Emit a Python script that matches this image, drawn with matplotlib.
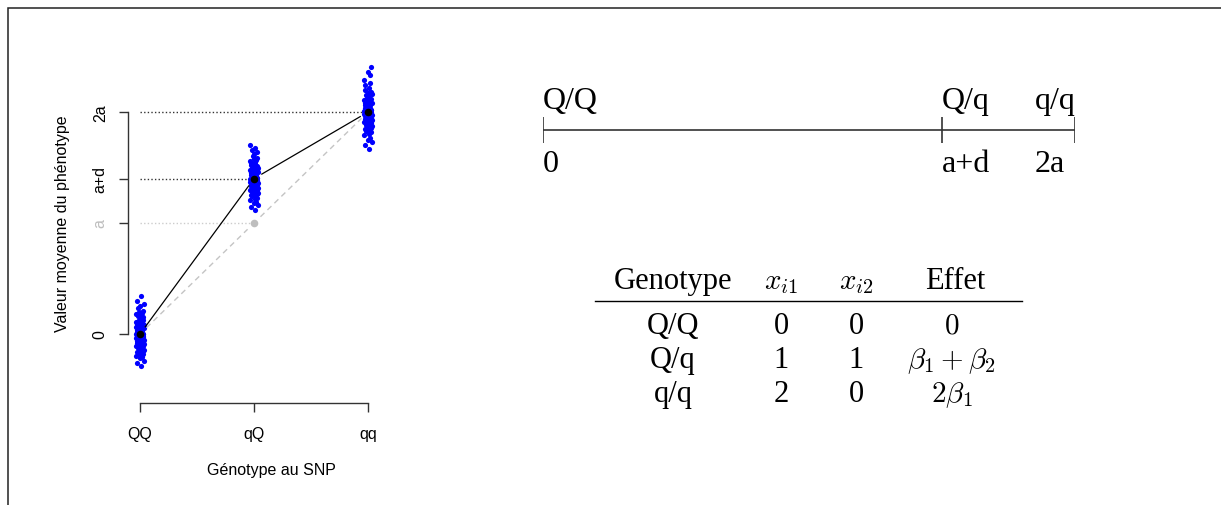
import numpy as np
import matplotlib
matplotlib.use("Agg")
import matplotlib.pyplot as plt

plt.rcParams["mathtext.fontset"] = "cm"

# --- data ---------------------------------------------------------------
genotypes = ["QQ", "qQ", "qq"]
genotype_pos = [1, 2, 3]
mean_values = [0.0, 1.4, 2.0]          # 0, a+d, 2a  (a = 1)
additive_values = [0.0, 1.0, 2.0]      # 0, a, 2a
ytick_values = [0.0, 1.0, 1.4, 2.0]
ytick_labels = ["0", "a", "a+d", "2a"]

QQ_values = [-0.29, -0.26, -0.24, -0.22, -0.21, -0.2, -0.19, -0.18, -0.17, -0.16,
             -0.16, -0.15, -0.14, -0.14, -0.13, -0.13, -0.12, -0.12, -0.11, -0.11,
             -0.1, -0.1, -0.1, -0.09, -0.09, -0.08, -0.08, -0.08, -0.07, -0.07,
             -0.07, -0.06, -0.06, -0.06, -0.05, -0.05, -0.05, -0.04, -0.04, -0.04,
             -0.03, -0.03, -0.03, -0.02, -0.02, -0.02, -0.01, -0.01, -0.01, 0.0,
             0.0, 0.0, 0.0, 0.01, 0.01, 0.01, 0.02, 0.02, 0.02, 0.03,
             0.03, 0.03, 0.04, 0.04, 0.04, 0.05, 0.05, 0.05, 0.06, 0.06,
             0.06, 0.07, 0.07, 0.07, 0.08, 0.08, 0.09, 0.09, 0.1, 0.1,
             0.11, 0.11, 0.12, 0.12, 0.13, 0.13, 0.14, 0.15, 0.16, 0.17,
             0.18, 0.19, 0.2, 0.21, 0.23, 0.25, 0.27, 0.3, 0.34]
qQ_values = [1.12, 1.14, 1.16, 1.18, 1.19, 1.21, 1.22, 1.23, 1.24, 1.25,
             1.25, 1.26, 1.27, 1.27, 1.28, 1.28, 1.29, 1.29, 1.3, 1.3,
             1.31, 1.31, 1.31, 1.32, 1.32, 1.33, 1.33, 1.33, 1.34, 1.34,
             1.34, 1.35, 1.35, 1.35, 1.36, 1.36, 1.36, 1.37, 1.37, 1.37,
             1.38, 1.38, 1.38, 1.39, 1.39, 1.39, 1.4, 1.4, 1.4, 1.4,
             1.41, 1.41, 1.41, 1.42, 1.42, 1.42, 1.43, 1.43, 1.43, 1.44,
             1.44, 1.44, 1.45, 1.45, 1.45, 1.46, 1.46, 1.47, 1.47, 1.48,
             1.48, 1.49, 1.49, 1.5, 1.5, 1.51, 1.51, 1.52, 1.53, 1.54,
             1.55, 1.56, 1.57, 1.58, 1.59, 1.6, 1.62, 1.64, 1.66, 1.68, 1.7]
qq_values = [1.67, 1.7, 1.73, 1.75, 1.77, 1.79, 1.8, 1.82, 1.83, 1.84,
             1.85, 1.86, 1.87, 1.87, 1.88, 1.89, 1.89, 1.9, 1.9, 1.91,
             1.91, 1.92, 1.92, 1.93, 1.93, 1.93, 1.94, 1.94, 1.95, 1.95,
             1.95, 1.96, 1.96, 1.96, 1.97, 1.97, 1.97, 1.98, 1.98, 1.98,
             1.99, 1.99, 1.99, 2.0, 2.0, 2.0, 2.0, 2.01, 2.01, 2.01,
             2.02, 2.02, 2.02, 2.03, 2.03, 2.03, 2.04, 2.04, 2.04, 2.05,
             2.05, 2.06, 2.06, 2.07, 2.07, 2.08, 2.08, 2.09, 2.1, 2.11,
             2.12, 2.13, 2.14, 2.15, 2.16, 2.17, 2.18, 2.2, 2.22, 2.24,
             2.26, 2.29, 2.33, 2.36, 2.41]
jitter = [0.012, -0.025, 0.031, -0.004, 0.019, -0.033, 0.007, 0.026, -0.016, 0.001,
          -0.028, 0.022, -0.009, 0.034, -0.021, 0.005, 0.015, -0.012, 0.029, -0.035,
          0.009, -0.002, 0.024, -0.019, 0.032, -0.007, 0.017, -0.030, 0.003, 0.027,
          -0.014, 0.011, -0.024, 0.020, -0.001, 0.033, -0.017, 0.006, -0.031, 0.014,
          0.025, -0.010, 0.002, -0.026, 0.030, -0.005, 0.018, -0.022, 0.008, -0.034,
          0.023, -0.013, 0.028, -0.008, 0.004, -0.020, 0.016, -0.029, 0.010, -0.003,
          -0.018, 0.021, -0.027, 0.013, -0.006, 0.035, -0.023, 0.003, 0.019, -0.032,
          0.026, -0.011, 0.008, -0.015, 0.031, -0.001, 0.022, -0.029, 0.006, -0.024,
          0.013, -0.036, 0.018, -0.004, 0.029, -0.012, 0.001, 0.024, -0.020, 0.009,
          -0.033, 0.016, -0.007, 0.027, -0.016, 0.004, 0.032, -0.025, 0.011, -0.002]

numline_values = [0.0, 1.5, 2.0]
numline_top = ["Q/Q", "Q/q", "q/q"]
numline_bottom = ["0", "a+d", "2a"]

table_header = ["Genotype", "$x_{i1}$", "$x_{i2}$", "Effet"]
table_genotype = ["Q/Q", "Q/q", "q/q"]
table_xi1 = ["0", "1", "2"]
table_xi2 = ["0", "1", "0"]
table_effet = ["$0$", r"$\beta_1 + \beta_2$", r"$2\beta_1$"]

W, H = 1221, 506
fig = plt.figure(figsize=(W / 100, H / 100), dpi=100)


def fig_rect(x0, y0, x1, y1):
    # pixel box (top-left origin) -> figure fraction rect
    return [x0 / W, 1 - y1 / H, (x1 - x0) / W, (y1 - y0) / H]


# --- left: R-style plot --------------------------------------------------
ax = fig.add_axes(fig_rect(128, 52, 380, 404))
ax.set_xlim(0.8947, 3.105)
ax.set_ylim(-0.6216, 2.55)
for s in ["top", "right"]:
    ax.spines[s].set_visible(False)
ax.spines["left"].set_bounds(0, 2)
ax.spines["bottom"].set_bounds(1, 3)
for s in ["left", "bottom"]:
    ax.spines[s].set_color("#333333")
    ax.spines[s].set_linewidth(1.0)

ax.set_xticks(genotype_pos)
ax.set_xticklabels(genotypes, fontsize=11.5, family="Liberation Sans")
ax.set_yticks(ytick_values)
ax.set_yticklabels(ytick_labels, fontsize=11.5, family="Liberation Sans",
                   rotation=90, va="center")
ax.get_yticklabels()[1].set_color("#BEBEBE")
ax.tick_params(axis="x", length=6.5, width=1, color="#333333", pad=10)
ax.tick_params(axis="y", length=6.5, width=1, color="#333333", pad=8)

clouds = [QQ_values, qQ_values, qq_values]
for pos, vals in zip(genotype_pos, clouds):
    xs = pos + np.array(jitter[:len(vals)])
    ax.scatter(xs, vals, s=14, color="#0000FF", linewidths=0, zorder=2)

dot = (0, (1, 1.6))
ax.plot([1, 3], [mean_values[2]] * 2, linestyle=dot, color="#333333", lw=1, zorder=1)
ax.plot([1, 2], [mean_values[1]] * 2, linestyle=dot, color="#333333", lw=1, zorder=1)
ax.plot([1, 2], [additive_values[1]] * 2, linestyle=dot, color="#CCCCCC", lw=1, zorder=1)


def gapped(xs, ys, gap_px, **kw):
    pts = ax.transData.transform(np.column_stack([xs, ys]))
    inv = ax.transData.inverted()
    for p0, p1 in zip(pts[:-1], pts[1:]):
        d = p1 - p0
        u = d / np.hypot(*d)
        seg = inv.transform([p0 + u * gap_px, p1 - u * gap_px])
        ax.plot(seg[:, 0], seg[:, 1], **kw)


gapped(genotype_pos, additive_values, 9, color="#C4C4C4", lw=1,
       dashes=(4, 3), zorder=3)
gapped(genotype_pos, mean_values, 9, color="black", lw=0.9, zorder=4)
ax.scatter([2], [additive_values[1]], s=30, color="#BEBEBE", linewidths=0, zorder=5)
ax.scatter(genotype_pos, mean_values, s=30, color="black", linewidths=0, zorder=5)

fig.text(63 / W, 1 - 224 / H, "Valeur moyenne du phénotype", rotation=90,
         ha="center", va="center", fontsize=11.5, family="Liberation Sans")
fig.text(271 / W, 1 - 471 / H, "Génotype au SNP", ha="center", va="center",
         fontsize=11.5, family="Liberation Sans")

# --- right: number line --------------------------------------------------
axn = fig.add_axes(fig_rect(543, 111, 1075, 151))
axn.set_xlim(0, 2)
axn.set_ylim(-1, 1)
axn.axis("off")
axn.plot([numline_values[0], numline_values[-1]], [0, 0], color="#333333", lw=1.2,
         solid_capstyle="butt")
axn.vlines(numline_values, -0.65, 0.65, color="#333333", lw=1.2)

ov = fig.add_axes([0, 0, 1, 1])
ov.set_xlim(0, W)
ov.set_ylim(H, 0)
ov.axis("off")
ov.patch.set_alpha(0)

serif = "Liberation Serif"
top_x = [543, 942, 1035]
for x, t in zip(top_x, numline_top):
    ov.text(x, 109, t, ha="left", va="baseline", fontsize=23, family=serif)
for x, t in zip(top_x, numline_bottom):
    ov.text(x, 172, t, ha="left", va="baseline", fontsize=23, family=serif)

# --- right: table ---------------------------------------------------------
col_x = [673, 781, 856, 955]
ov.text(col_x[0], 289, table_header[0], ha="center", va="baseline", fontsize=22, family=serif)
for x, t in zip(col_x[1:3], table_header[1:3]):
    ov.text(x, 289, t, ha="center", va="baseline", fontsize=21)
ov.text(col_x[3], 289, table_header[3], ha="center", va="baseline", fontsize=22, family=serif)
ov.plot([595, 1022], [302, 302], color="black", lw=1)

row_y = [334, 368, 402]
for y, g, a, b, e in zip(row_y, table_genotype, table_xi1, table_xi2, table_effet):
    ov.text(col_x[0], y, g, ha="center", va="baseline", fontsize=22, family=serif)
    ov.text(col_x[1], y, a, ha="center", va="baseline", fontsize=22, family=serif)
    ov.text(col_x[2], y, b, ha="center", va="baseline", fontsize=22, family=serif)
    ov.text(col_x[3] - 3, y, e, ha="center", va="baseline", fontsize=21)

# frame remnants
ov.plot([8, 8, W], [H, 9, 9], color="#222222", lw=1.1, solid_joinstyle="miter")

fig.savefig("out.png", dpi=100)
